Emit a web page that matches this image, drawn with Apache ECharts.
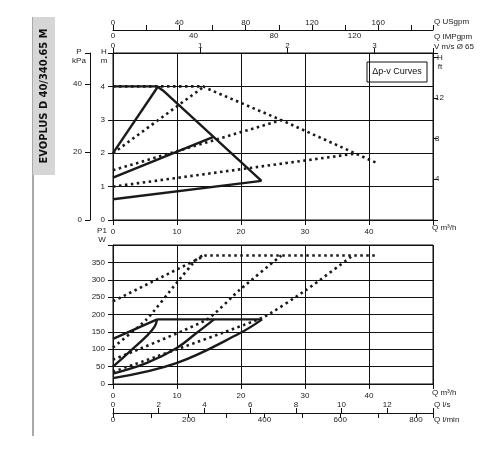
<!DOCTYPE html>
<html><head><meta charset="utf-8">
<script src="https://cdn.jsdelivr.net/npm/echarts@6/dist/echarts.min.js"></script>
<style>html,body{margin:0;background:#fff}#c{width:500px;height:450px}</style>
</head><body><div id="c"></div>
<script>
// head curves, [Q m3/h, H m]
const headMaxSolid = [[0, 4], [6.9, 4], [7.8, 3.88], [23.2, 1.17]];
const headSolidA = [[0, 2], [6.9, 3.96]];
const headSolidB = [[0, 1.27], [15.7, 2.49]];
const headSolidC = [[0, 0.62], [23.2, 1.17]];
const headMaxDot = [[0, 4], [14.1, 4], [14.8, 3.93], [26.3, 2.99], [41.4, 1.69]];
const headDotA = [[0, 2], [14.1, 3.98]];
const headDotB = [[0, 1.49], [26.3, 2.99]];
const headDotC = [[0, 1.0], [38, 1.99]];
// power curves, [Q m3/h, P1 W]
const powSolidTop = [[6.9, 186], [23.3, 186]];
const powSolidA = [[0, 130], [6.9, 186]];
const powSolidB = [[0, 50], [2.6, 93], [5.2, 137], [6.5, 165], [6.9, 186]];
const powSolidC = [[0, 30], [5.2, 60], [9.9, 103], [13, 146], [15.8, 186]];
const powSolidD = [[0, 17], [9.9, 60], [19.8, 146], [23.3, 186]];
const powDotMax = [[0, 238], [13.3, 360], [14.5, 370], [41.3, 370]];
const powDotA = [[0, 105], [5.2, 185], [9.9, 290], [13, 358], [14, 370]];
const powDotB = [[0, 70], [14.6, 185], [19.8, 271], [26.3, 370]];
const powDotC = [[0, 35], [23.2, 190], [30.2, 271], [37.5, 370]];

const FONT = 'Liberation Sans';
const lab = {color: '#222', fontSize: 8, fontFamily: FONT};
const line = {lineStyle: {color: '#111', width: 1}};

function ax(o) {
  return Object.assign({type: 'value', min: 0, axisLine: Object.assign({show: true, onZero: false}, line),
    axisTick: {show: true, lineStyle: {color: '#111'}}, splitLine: {show: false},
    axisLabel: Object.assign({}, lab)}, o);
}
function every(n, max) { return v => (v <= max && Math.abs(v / n - Math.round(v / n)) < 1e-6 ? String(v) : ''); }
const hiddenY = g => ({type: 'value', gridIndex: g, show: false, min: 0, max: 1});

const solid = (data, xi, yi, smooth) => ({type: 'line', data, xAxisIndex: xi, yAxisIndex: yi, symbol: 'none',
  smooth: smooth || false, clip: false, lineStyle: {color: '#1a1a1a', width: 2.4}});
const dotted = (data, xi, yi, smooth) => ({type: 'line', data, xAxisIndex: xi, yAxisIndex: yi, symbol: 'none',
  smooth: smooth || false, clip: false, lineStyle: {color: '#1a1a1a', width: 2.6, type: [2.5, 3.5]}});
const txt = (x, y, s, align) => ({type: 'text', x, y, style: {text: s, fill: '#222', font: '8px ' + FONT,
  align: align || 'center', lineHeight: 9}});

const chart = echarts.init(document.getElementById('c'), null, {renderer: 'canvas'});
chart.setOption({
  animation: false,
  grid: [
    {left: 113, right: 67, top: 53, height: 167, show: true, borderColor: '#111', borderWidth: 1},
    {left: 113, right: 67, top: 245, height: 139, show: true, borderColor: '#111', borderWidth: 1},
    {left: 113, right: 67, top: 30, height: 1},
    {left: 113, right: 67, top: 412, height: 1}
  ],
  xAxis: [
    ax({gridIndex: 0, max: 50, interval: 10, position: 'bottom', splitLine: {show: true, lineStyle: {color: '#111'}},
      axisLabel: Object.assign({}, lab, {formatter: v => v < 50 ? v : ''})}),
    ax({gridIndex: 0, max: 3.67, interval: 1, position: 'top', axisLabel: Object.assign({}, lab, {margin: 3, formatter: every(1, 3)})}),
    ax({gridIndex: 2, max: 193, interval: 20, position: 'top', axisLabel: Object.assign({}, lab, {formatter: every(40, 180), margin: 3})}),
    ax({gridIndex: 2, max: 159, interval: 20, position: 'bottom', axisLine: {show: false}, axisTick: {show: false},
      axisLabel: Object.assign({}, lab, {formatter: every(40, 150), margin: 1})}),
    ax({gridIndex: 1, max: 50, interval: 10, position: 'bottom', splitLine: {show: true, lineStyle: {color: '#111'}},
      axisLabel: Object.assign({}, lab, {formatter: v => v < 50 ? v : ''})}),
    ax({gridIndex: 3, max: 14, interval: 2, position: 'top', axisLine: {show: false},
      axisLabel: Object.assign({}, lab, {margin: 3, formatter: every(2, 12)})}),
    ax({gridIndex: 3, max: 845, interval: 100, position: 'bottom',
      axisLabel: Object.assign({}, lab, {formatter: every(200, 800), margin: 3})})
  ],
  yAxis: [
    ax({gridIndex: 0, max: 5, interval: 1, position: 'left', splitLine: {show: true, lineStyle: {color: '#111'}},
      axisLabel: Object.assign({}, lab, {formatter: v => v < 5 ? v : ''})}),
    ax({gridIndex: 0, max: 49.05, interval: 20, position: 'left', offset: 23, axisLabel: Object.assign({}, lab, {formatter: v => v < 45 ? v : ''})}),
    ax({gridIndex: 0, max: 16.4, interval: 4, position: 'right', axisLabel: Object.assign({}, lab, {margin: 2, formatter: v => v > 0 && v < 16 ? v : ''})}),
    ax({gridIndex: 1, max: 400, interval: 50, position: 'left', splitLine: {show: true, lineStyle: {color: '#111'}},
      axisLabel: Object.assign({}, lab, {formatter: v => v < 400 ? v : ''})}),
    hiddenY(2), hiddenY(3)
  ],
  graphic: [
    {type: 'line', shape: {x1: 33, y1: 17, x2: 33, y2: 436}, style: {stroke: '#555', lineWidth: 1}},
    {type: 'rect', shape: {x: 33, y: 17, width: 22, height: 158}, style: {fill: '#d6d6d6'}},
    {type: 'text', x: 44, y: 96, rotation: Math.PI / 2, style: {text: 'EVOPLUS D 40/340.65 M', fill: '#111',
      font: 'bold 11px "DejaVu Sans Condensed", "Liberation Sans Narrow", sans-serif', align: 'center', verticalAlign: 'middle'}},
    {type: 'rect', shape: {x: 367, y: 62, width: 60, height: 20}, style: {fill: '#fff', stroke: '#111', lineWidth: 1}},
    {type: 'text', x: 397, y: 72, style: {text: 'Δp-v Curves', fill: '#111', font: '9px ' + FONT, align: 'center', verticalAlign: 'middle'}},
    txt(79, 47, 'P\nkPa'), txt(104, 47, 'H\nm'), txt(440, 53, 'H\nft'), txt(102, 226, 'P1\nW'),
    txt(434, 17, 'Q USgpm', 'left'), txt(434, 32, 'Q IMPgpm', 'left'), txt(434, 42, 'V m/s Ø 65', 'left'),
    txt(432, 223, 'Q m³/h', 'left'), txt(432, 388, 'Q m³/h', 'left'),
    txt(434, 400, 'Q l/s', 'left'), txt(434, 415, 'Q l/min', 'left')
  ],
  series: [
    solid(headMaxSolid, 0, 0), solid(headSolidA, 0, 0), solid(headSolidB, 0, 0), solid(headSolidC, 0, 0),
    dotted(headMaxDot, 0, 0), dotted(headDotA, 0, 0), dotted(headDotB, 0, 0), dotted(headDotC, 0, 0),
    solid(powSolidTop, 4, 3), solid(powSolidA, 4, 3), solid(powSolidB, 4, 3, 0.4), solid(powSolidC, 4, 3, 0.4),
    solid(powSolidD, 4, 3, 0.4),
    dotted(powDotMax, 4, 3), dotted(powDotA, 4, 3, 0.2), dotted(powDotB, 4, 3, 0.2), dotted(powDotC, 4, 3, 0.2)
  ]
});
</script></body></html>
